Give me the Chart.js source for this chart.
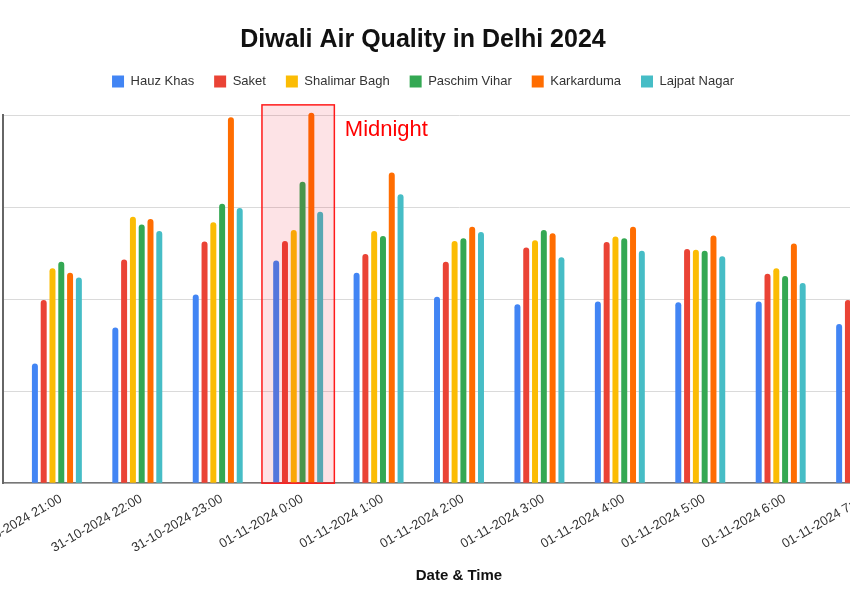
<!DOCTYPE html>
<html>
<head>
  <title>Diwali Air Quality in Delhi 2024</title>
  <script src="https://cdn.jsdelivr.net/npm/chart.js"></script>
  <style>
    body {
      margin: 0;
      background: #fff;
      overflow: hidden;
    }
    /* canvas is wider than the window, so the y-axis side and the right end get cropped */
    #chart {
      position: absolute;
      left: -120px;
      top: 0;
    }
  </style>
</head>
<body>
  <canvas id="chart" width="1086" height="600"></canvas>

  <script>
    // categories
    const timeLabels = [
      '31-10-2024 21:00', '31-10-2024 22:00', '31-10-2024 23:00',
      '01-11-2024 0:00', '01-11-2024 1:00', '01-11-2024 2:00',
      '01-11-2024 3:00', '01-11-2024 4:00', '01-11-2024 5:00',
      '01-11-2024 6:00', '01-11-2024 7:00'
    ];

    // series values
    const hauzKhas     = [260, 338, 410, 484, 457, 405, 389, 395, 393, 395, 346];
    const saket        = [398, 486, 525, 526, 498, 481, 512, 524, 509, 455, 398];
    const shalimarBagh = [467, 579, 567, 550, 548, 526, 528, 536, 507, 467, 430];
    const paschimVihar = [481, 562, 607, 655, 537, 532, 550, 532, 505, 450, 420];
    const karkarduma   = [457, 574, 795, 805, 675, 557, 543, 557, 538, 521, 470];
    const lajpatNagar  = [447, 548, 598, 590, 628, 546, 491, 505, 493, 435, 400];

    const stations = ['Hauz Khas', 'Saket', 'Shalimar Bagh', 'Paschim Vihar', 'Karkarduma', 'Lajpat Nagar'];
    const seriesValues = [hauzKhas, saket, shalimarBagh, paschimVihar, karkarduma, lajpatNagar];
    const colors = ['#4285F4', '#EA4335', '#FBBC04', '#34A853', '#FF6D01', '#46BDC6'];

    const midnightLabel = '01-11-2024 0:00';

    Chart.defaults.font.family = '"Liberation Sans", Arial, sans-serif';

    // extra room between legend and plot
    const legendGap = {
      id: 'legendGap',
      afterInit(chart) {
        const fit = chart.legend.fit;
        chart.legend.fit = function () {
          fit.call(this);
          this.height += 17;
        };
      }
    };

    // shaded box + "Midnight" note, drawn on top of the bars
    const midnightBox = {
      id: 'midnightBox',
      afterDatasetsDraw(chart) {
        const x = chart.scales.x, y = chart.scales.y, ctx = chart.ctx;
        const i = timeLabels.indexOf(midnightLabel);
        const left = x.getPixelForValue(i - 0.45);
        const right = x.getPixelForValue(i + 0.45);
        const top = y.getPixelForValue(822);
        const bottom = y.getPixelForValue(0);
        ctx.save();
        ctx.fillStyle = 'rgba(240, 0, 30, 0.11)';
        ctx.fillRect(left, top, right - left, bottom - top);
        ctx.strokeStyle = '#ff1a1a';
        ctx.lineWidth = 1.5;
        ctx.strokeRect(left, top, right - left, bottom - top);
        ctx.fillStyle = '#ff0000';
        ctx.font = '22px "Liberation Sans", Arial, sans-serif';
        ctx.textAlign = 'left';
        ctx.textBaseline = 'middle';
        ctx.fillText('Midnight', x.getPixelForValue(i + 0.58), y.getPixelForValue(768));
        ctx.restore();
      }
    };

    const datasets = stations.map((name, s) => ({
      label: name,
      data: seriesValues[s].map((v, i) => ({ x: i, y: v })),
      backgroundColor: colors[s],
      borderRadius: 3,
      categoryPercentage: 0.656,
      barPercentage: 0.68,
      clip: false
    }));

    new Chart(document.getElementById('chart'), {
      type: 'bar',
      data: { datasets },
      plugins: [legendGap, midnightBox],
      options: {
        responsive: false,
        animation: false,
        layout: { padding: { bottom: 11 } },
        plugins: {
          title: {
            display: true,
            text: 'Diwali Air Quality in Delhi 2024',
            color: '#111',
            font: { size: 25, weight: 'bold' },
            padding: { top: 25, bottom: 0 }
          },
          legend: {
            labels: {
              boxWidth: 12,
              boxHeight: 12,
              padding: 20,
              color: '#333',
              font: { size: 13 }
            }
          },
          tooltip: { enabled: false }
        },
        scales: {
          x: {
            type: 'linear',
            offset: false,
            min: -0.67,
            max: 10.67,
            grid: { display: false },
            border: { color: '#777', width: 1.5 },
            ticks: {
              stepSize: 1,
              includeBounds: false,
              autoSkip: false,
              maxRotation: 30,
              minRotation: 30,
              padding: 0,
              labelOffset: 4,
              color: '#333',
              font: { size: 13 },
              callback: v => timeLabels[v] || ''
            },
            title: {
              display: true,
              text: 'Date & Time',
              color: '#111',
              font: { size: 15, weight: 'bold' },
              padding: { top: 11, bottom: 4 }
            }
          },
          y: {
            min: 0,
            max: 800,
            ticks: { display: false, stepSize: 200 },
            grid: { color: '#dadada', drawTicks: false },
            border: { color: '#666', width: 2 },
            afterFit: s => { s.width = 123; }
          },
          // empty right-hand axis, only reserves space
          yRight: {
            position: 'right',
            grid: { display: false },
            border: { display: false },
            ticks: { display: false },
            afterFit: s => { s.width = 51; }
          }
        }
      }
    });
  </script>
</body>
</html>
